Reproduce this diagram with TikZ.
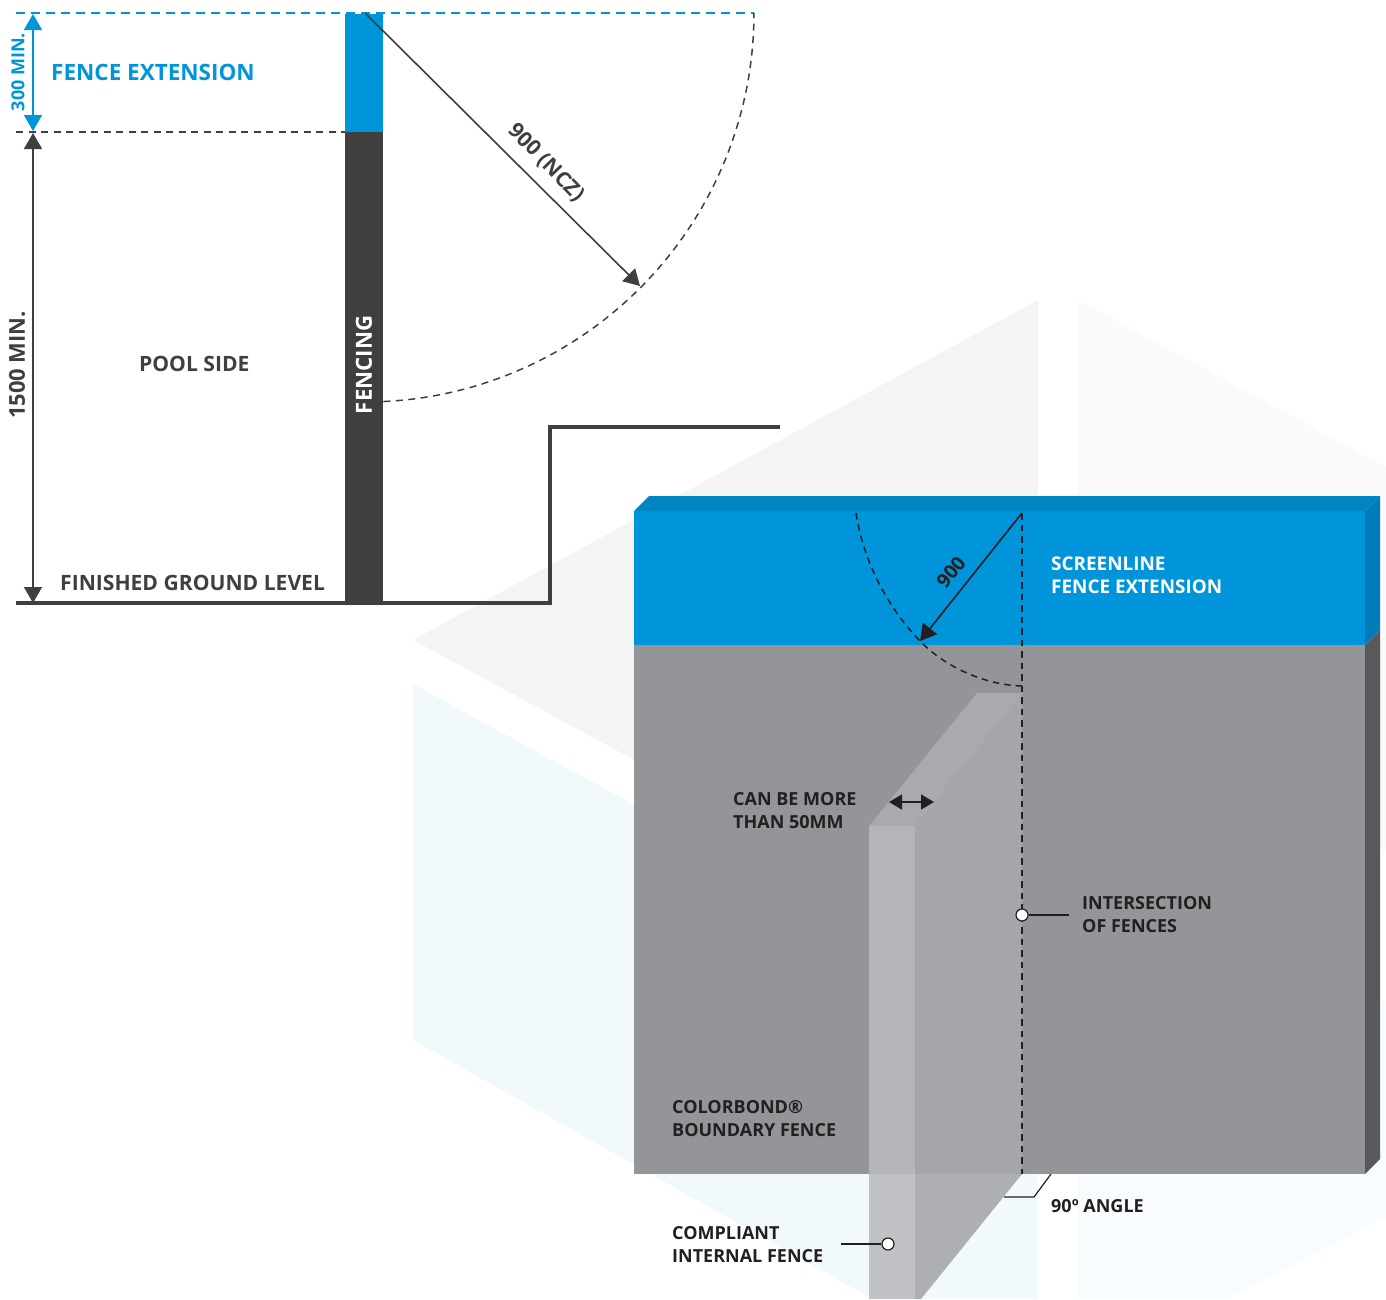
\documentclass[tikz,border=0pt]{standalone}
\usepackage{fontspec}
\setmainfont{Open Sans}
\usetikzlibrary{arrows.meta}
\definecolor{cblue}{HTML}{0095DA}
\definecolor{ctop}{HTML}{0085C3}
\definecolor{cside}{HTML}{007DB8}
\definecolor{cdark}{HTML}{3F3F3F}
\definecolor{cink}{HTML}{231F20}
\definecolor{cfence}{HTML}{939598}
\definecolor{cfside}{HTML}{58595B}
\definecolor{cbggrey}{HTML}{F4F4F4}
\definecolor{cbggreyb}{HTML}{FAFAFA}
\definecolor{cbgblue}{HTML}{F1F9FD}
\definecolor{cbgblueb}{HTML}{F8FCFE}
\definecolor{cfrontup}{HTML}{B3B5BA}
\definecolor{cfrontlo}{HTML}{C0C2C6}
\definecolor{csideup}{HTML}{A5A6AA}
\definecolor{csidelo}{HTML}{AEAFB2}
\definecolor{ctopface}{HTML}{A9AAAF}
\tikzset{
  x=1pt,y=-1pt,
  lab/.style={font=\bfseries\fontsize{18}{23}\selectfont,align=left,anchor=west,text=cdark,inner sep=0pt},
  biglab/.style={lab,font=\bfseries\fontsize{21.1}{26}\selectfont},
  blab/.style={lab,text=cink},
  wlab/.style={lab,text=white,font=\bfseries\fontsize{18.9}{23}\selectfont},
  tip/.style={-{Triangle[length=16pt,width=18pt]}},
  tips/.style={{Triangle[length=16pt,width=18pt]}-{Triangle[length=16pt,width=18pt]}},
  dim/.style={draw=cdark,line width=1.6pt},
  dashone/.style={draw=cdark,line width=1.5pt,dash pattern=on 7pt off 5.5pt},
  dashtwo/.style={draw=cink,line width=1.5pt,dash pattern=on 6.5pt off 5pt},
  dot/.style={circle,draw=cink,fill=white,line width=1.2pt,minimum size=12pt,inner sep=0pt},
  leader/.style={draw=cink,line width=1.2pt},
}
\begin{document}
\begin{tikzpicture}
\useasboundingbox (0,0) rectangle (1386,1299);
% background hexagon
\fill[cbggrey] (1038,300) -- (413,640) -- (640,763) -- (1038,763) -- cycle;
\fill[cbggreyb] (1078,300) -- (1386,467) -- (1386,850) -- (1078,850) -- cycle;
\fill[cbgblue] (413,684) -- (640,808) -- (640,1174) -- (1038,1174) -- (1038,1299) -- (872,1299) -- (413,1040) -- cycle;
\fill[cbgblueb] (1078,1000) -- (1386,1000) -- (1386,1217) -- (1227,1299) -- (1078,1299) -- cycle;
% boundary fence
\fill[cfence] (634,645) rectangle (1365,1174);
\fill[cblue] (634,511) rectangle (1365,645);
\fill[ctop] (634,511) -- (649,496) -- (1380,496) -- (1365,511) -- cycle;
\fill[cside] (1365,511) -- (1380,496) -- (1380,630) -- (1365,645) -- cycle;
\fill[cfside] (1365,645) -- (1380,630) -- (1380,1159) -- (1365,1174) -- cycle;
% internal fence
\fill[ctopface] (869,826) -- (977,693) -- (1022,693) -- (915,826) -- cycle;
\fill[csideup] (915,826) -- (1022,693) -- (1022,1174) -- (915,1174) -- cycle;
\fill[csidelo] (915,1174) -- (1022,1174) -- (921,1299) -- (915,1299) -- cycle;
\fill[cfrontup] (869,826) rectangle (915,1174);
\fill[cfrontlo] (869,1174) rectangle (915,1299);
% upper section
\fill[cblue] (345,13.5) rectangle (383,132);
\fill[cdark] (345,132) rectangle (383,603);
\draw[draw=cblue,line width=1.5pt,dash pattern=on 9pt off 6pt] (16,13) -- (754,13);
\draw[dashone] (16,132) -- (345,132);
\coordinate (topL) at (33,14);
\coordinate (midA) at (33,131);
\coordinate (midB) at (33,133);
\coordinate (botL) at (33,603);
\draw[tips,draw=cblue,fill=cblue,line width=1.6pt] (topL) -- (midA);
\draw[tips,dim,fill=cdark] (midB) -- (botL);
\draw[draw=cdark,line width=3.4pt,line join=miter] (16,603) -- (550,603) -- (550,427) -- (780,427);
\draw[dashone] plot[domain=87.3:0,samples=80] ({365+389*cos(\x)},{13+389*sin(\x)});
\coordinate (arcC) at (365,13);
\coordinate (arcP) at (640,286);
\draw[tip,dim,fill=cdark] (arcC) -- (arcP);
% lower marks
\draw[dashtwo] (856,513) .. controls (864,565) and (890,610) .. (920,641) .. controls (945,667) and (985,685) .. (1022,686);
\draw[dashtwo] (1022,513) -- (1022,1174);
\coordinate (lowC) at (1022,513);
\coordinate (lowP) at (920,641);
\draw[tip,draw=cink,fill=cink,line width=1.6pt] (lowC) -- (lowP);
\coordinate (wa) at (889,802);
\coordinate (wb) at (934,802);
\draw[{Triangle[length=13pt,width=15pt]}-{Triangle[length=13pt,width=15pt]},draw=cink,fill=cink,line width=1.6pt] (wa) -- (wb);
\coordinate (angA) at (1051,1174);
\coordinate (angB) at (1034,1197);
\coordinate (angC) at (1004,1197);
\draw[leader] (angA) -- (angB) -- (angC);
\node[dot] (interdot) at (1022,915) {};
\coordinate (interend) at (1069,915);
\draw[leader] (interdot) -- (interend);
\node[dot] (compdot) at (888,1244) {};
\coordinate (compend) at (841,1244);
\draw[leader] (compdot) -- (compend);
% labels
\node[lab,text=cblue,font=\bfseries\fontsize{22.5}{26}\selectfont] (fe) at (51,72.5) {FENCE EXTENSION};
\node[lab,anchor=center,rotate=90,text=cblue,font=\bfseries\fontsize{18}{20}\selectfont] (m300) at (18,72) {300 MIN.};
\node[lab,anchor=center,rotate=90,font=\bfseries\fontsize{21.9}{26}\selectfont] (m1500) at (17,365) {1500 MIN.};
\node[biglab] (pool) at (139,364) {POOL SIDE};
\node[biglab] (fgl) at (60,583) {FINISHED GROUND LEVEL};
\node[lab,anchor=center,rotate=90,text=white,font=\bfseries\fontsize{22.2}{26}\selectfont] (fencing) at (364,365) {FENCING};
\node[biglab,anchor=center,rotate=-46] (ncz) at (546,163) {900 (NCZ)};
\node[lab,text=cink,font=\bfseries\fontsize{19.5}{23}\selectfont,anchor=center,rotate=51] (n900) at (951,572) {900};
\node[wlab] (screen) at (1051,575.5) {SCREENLINE\\FENCE EXTENSION};
\node[blab] (more) at (733,811) {CAN BE MORE\\THAN 50MM};
\node[blab] (inter) at (1082,915) {INTERSECTION\\OF FENCES};
\node[blab] (color) at (672,1119) {COLORBOND®\\BOUNDARY FENCE};
\node[blab] (angle) at (1051,1206) {90º ANGLE};
\node[blab] (comp) at (672,1245) {COMPLIANT\\INTERNAL FENCE};
\end{tikzpicture}
\end{document}
